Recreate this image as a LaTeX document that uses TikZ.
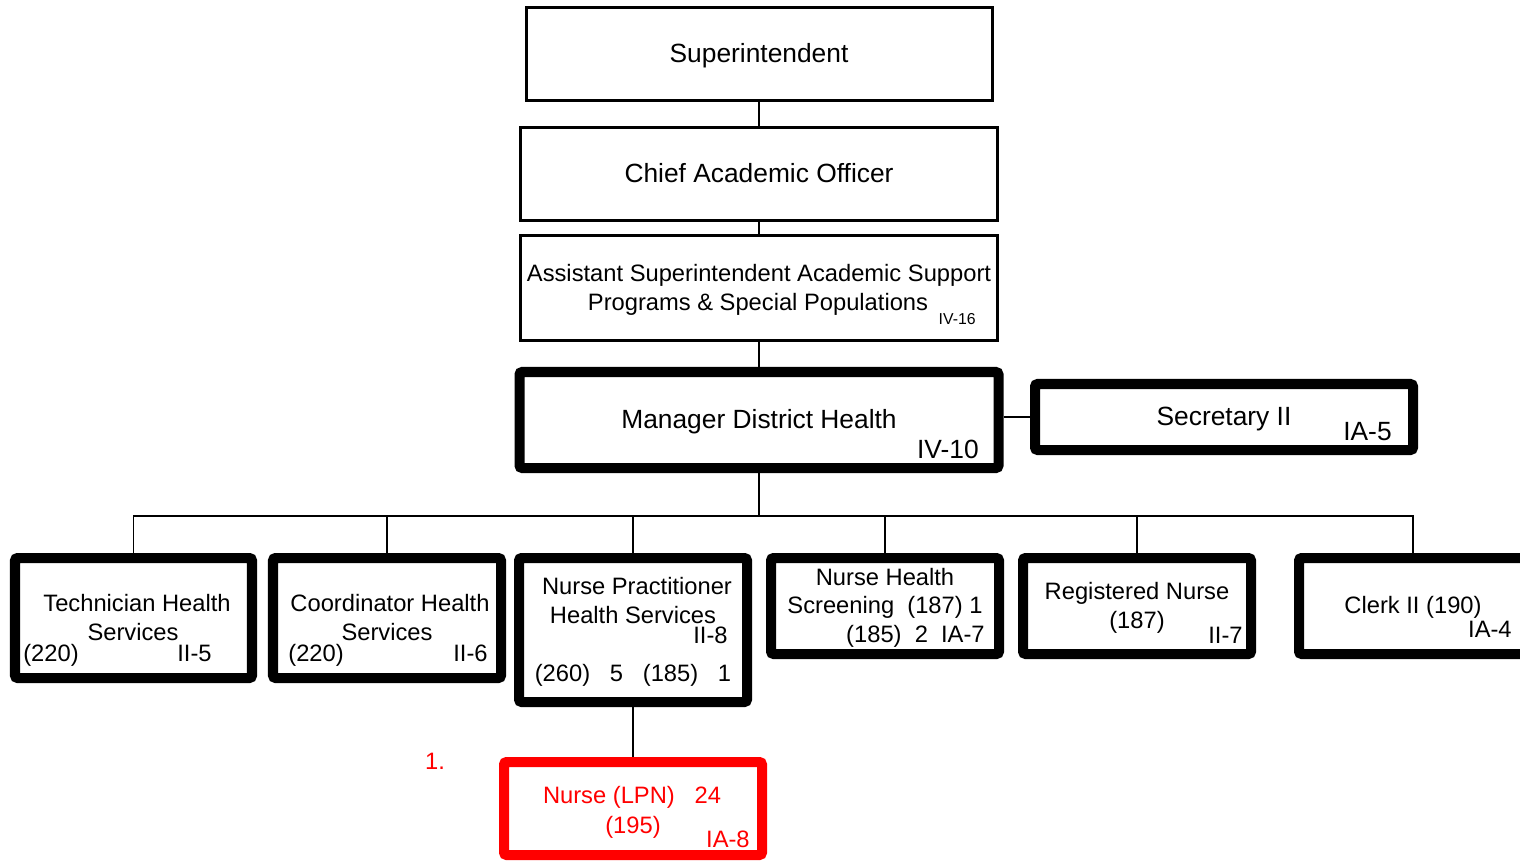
\documentclass[tikz,border=0pt]{standalone}
\usepackage{fontspec}
\setmainfont{Liberation Sans}
\usetikzlibrary{positioning}
\newcommand\fbig{\fontsize{15}{18}\selectfont}
\newcommand\fmid{\fontsize{13.5}{16}\selectfont}
\newcommand\fsml{\fontsize{9}{11}\selectfont}

\begin{document}
\begin{tikzpicture}[x=0.02cm,y=-0.02cm,
  thinbox/.style={draw,line width=1.7pt,inner sep=0pt},
  thickbox/.style={draw,line width=5.7pt,rounded corners=1.5pt,inner sep=0pt},
  redbox/.style={thickbox,draw=red},
  boxdim/.style 2 args={minimum width=#1*0.02cm,minimum height=#2*0.02cm},
  lbl/.style={anchor=base,inner sep=0pt,font=\fmid},
  link/.style={line width=1.1pt}]
\useasboundingbox (0,0) rectangle (1520,862);
% boxes
\node[thinbox,boxdim={466}{93}] (sup) at (759,54) {};
\node[thinbox,boxdim={477}{93}] (cao) at (759,174) {};
\node[thinbox,boxdim={477}{105}] (asst) at (759,288) {};
\node[thickbox,boxdim={479}{96}] (mgr) at (759,420) {};
\node[thickbox,boxdim={378}{66}] (sec) at (1224,417) {};
\node[thickbox,boxdim={237}{120}] (tech) at (133.5,618) {};
\node[thickbox,boxdim={228}{120}] (coord) at (387,618) {};
\node[thickbox,boxdim={228}{144}] (np) at (633,630) {};
\node[thickbox,boxdim={228}{96}] (nhs) at (885,606) {};
\node[thickbox,boxdim={228}{96}] (rn) at (1137,606) {};
\node[thickbox,boxdim={228}{96}] (clerk) at (1413,606) {};
\node[redbox,boxdim={258}{93}] (lpn) at (633,808.5) {};
% connectors
\coordinate (bus) at (759,516);
\draw[link] (sup) -- (cao);
\draw[link] (cao) -- (asst);
\draw[link] (asst) -- (mgr);
\draw[link] (mgr.east |- sec.west) -- (sec.west);
\draw[link] (mgr) -- (bus);
\draw[link] (tech.north) |- (bus) -| (clerk.north);
\foreach \n in {coord,np,nhs,rn}
  \draw[link] (\n.north) -- (\n.north |- bus);
\draw[link] (np) -- (lpn);
% texts
\node[lbl,font=\fbig] (sup-t) at (759,62) {Superintendent};
\node[lbl,font=\fbig] (cao-t) at (759,182) {Chief Academic Officer};
\node[lbl] (asst-t1) at (759,281) {Assistant Superintendent Academic Support};
\node[lbl] (asst-t2) at (758,310) {Programs \& Special Populations};
\node[lbl,anchor=base east,font=\fsml] (asst-g) at (976,324) {IV-16};
\node[lbl,font=\fbig] (mgr-t) at (759,428) {Manager District Health};
\node[lbl,anchor=base east,font=\fbig] (mgr-g) at (979,458) {IV-10};
\node[lbl,font=\fbig] (sec-t) at (1224,425) {Secretary II};
\node[lbl,anchor=base east,font=\fbig] (sec-g) at (1392,440) {IA-5};
\node[lbl] (tech-t1) at (137,611) {Technician Health};
\node[lbl] (tech-t2) at (133,640) {Services};
\node[lbl,anchor=base west] (tech-p) at (23,661) {(220)};
\node[lbl,anchor=base east] (tech-g) at (212,661) {II-5};
\node[lbl] (coord-t1) at (390,611) {Coordinator Health};
\node[lbl] (coord-t2) at (387,640) {Services};
\node[lbl,anchor=base west] (coord-p) at (288,661) {(220)};
\node[lbl,anchor=base east] (coord-g) at (488,661) {II-6};
\node[lbl] (np-t1) at (637,594) {Nurse Practitioner};
\node[lbl] (np-t2) at (633,623) {Health Services};
\node[lbl,anchor=base east] (np-g) at (728,643) {II-8};
\node[lbl] (np-p) at (633,681) {(260)\ \ \ 5\ \ \ (185)\ \ \ 1};
\node[lbl] (nhs-t1) at (885,585) {Nurse Health};
\node[lbl] (nhs-t2) at (885,613) {Screening\ \ (187) 1};
\node[lbl,anchor=base east] (nhs-g) at (985,642) {(185)\ \ 2\ \ IA-7};
\node[lbl] (rn-t1) at (1137,599) {Registered Nurse};
\node[lbl] (rn-t2) at (1137,628) {(187)};
\node[lbl,anchor=base east] (rn-g) at (1243,643) {II-7};
\node[lbl] (clerk-t) at (1413,613) {Clerk II (190)};
\node[lbl,anchor=base east] (clerk-g) at (1512,637) {IA-4};
\node[lbl,text=red] (lpn-t1) at (632,803) {Nurse (LPN)\ \ \ 24};
\node[lbl,text=red] (lpn-t2) at (633,833) {(195)};
\node[lbl,anchor=base east,text=red] (lpn-g) at (750,847) {IA-8};
\node[lbl,text=red] (note) at (435,769) {1.};
\end{tikzpicture}
\end{document}
